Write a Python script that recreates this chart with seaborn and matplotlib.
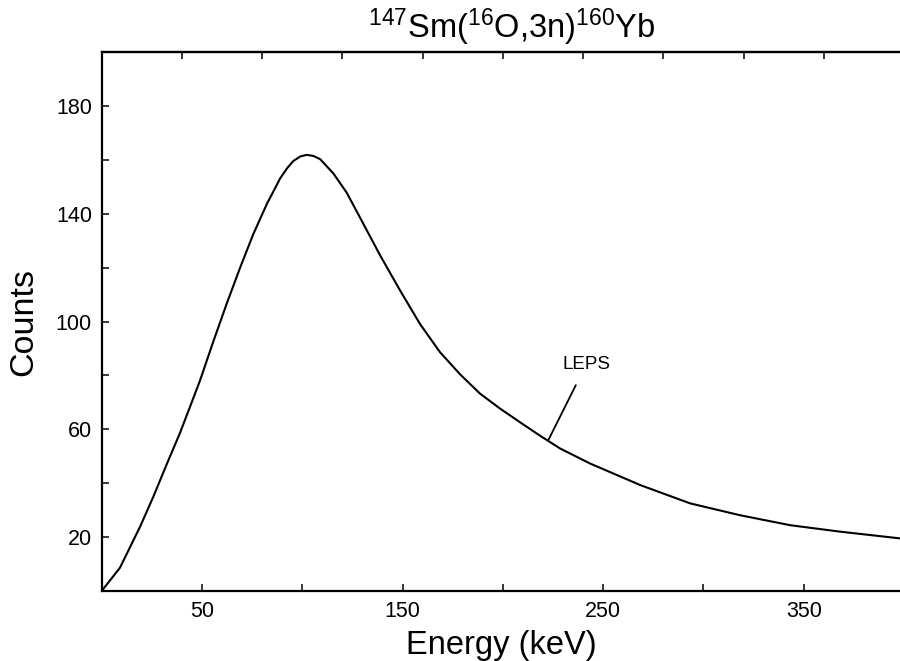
import numpy as np
import pandas as pd
import seaborn as sns
import matplotlib.pyplot as plt

# LEPS spectrum
energy = [0, 9.1, 19.1, 25.7, 32.4, 39, 44, 49, 55.6, 62.3, 69, 75.6, 82.3, 89, 92.5,
          95.5, 99, 102.2, 105.5, 108.9, 115.5, 122.2, 128.8, 138.8, 148.8, 158.7,
          168.7, 178.7, 188.7, 198.6, 208.6, 218.6, 228.5, 243.5, 268.5, 293.4, 318.3,
          343.3, 368.2, 398.1]
counts = [0, 8.6, 23.8, 34.9, 47.0, 58.6, 68.3, 78.1, 92.5, 106.6, 120, 132.5, 143.6,
          153.2, 157, 159.6, 161.3, 161.9, 161.5, 160.3, 155.0, 147.8, 138.6, 124.6,
          111.5, 99.1, 88.6, 80.4, 73.2, 67.7, 62.6, 57.6, 52.9, 47.3, 39.3, 32.5, 28.1,
          24.4, 22.0, 19.5]

x_ticks = [50, 100, 150, 200, 250, 300, 350]
x_labels = ['50', '', '150', '', '250', '', '350']
y_ticks = [20, 40, 60, 80, 100, 120, 140, 160, 180]
y_labels = ['20', '', '60', '', '100', '', '140', '', '180']
top_ticks = [40, 80, 120, 160, 200, 240, 280, 320, 360]

title = r'$^{147}$Sm($^{16}$O,3n)$^{160}$Yb'

sns.set_theme(style='ticks')
plt.rcParams['font.family'] = ['Liberation Sans', 'DejaVu Sans']
plt.rcParams['mathtext.fontset'] = 'custom'
plt.rcParams['mathtext.rm'] = 'Liberation Sans'
plt.rcParams['mathtext.it'] = 'Liberation Sans:italic'
plt.rcParams['mathtext.bf'] = 'Liberation Sans:bold'
plt.rcParams['text.color'] = 'black'
plt.rcParams['axes.labelcolor'] = 'black'

df = pd.DataFrame({'energy': energy, 'counts': counts})

fig = plt.figure(figsize=(9, 6.61), dpi=100)
ax = fig.add_axes([0.113, 0.106, 0.887, 0.815])

sns.lineplot(data=df, x='energy', y='counts', color='black', linewidth=1.5, ax=ax)

ax.set_xlim(0, 398)
ax.set_ylim(0, 200)
ax.set_xticks(x_ticks)
ax.set_xticklabels(x_labels)
ax.set_yticks(y_ticks)
ax.set_yticklabels(y_labels)
ax.tick_params(axis='both', direction='in', length=5, width=1.1, labelsize=15.5,
               pad=7, colors='black')

for s in ['left', 'bottom', 'top']:
    ax.spines[s].set_linewidth(1.6)
    ax.spines[s].set_color('black')
    ax.spines[s].set_visible(True)
ax.spines['right'].set_visible(False)

# ticks along the top frame
top = ax.secondary_xaxis('top')
top.set_xticks(top_ticks)
top.set_xticklabels([])
top.tick_params(direction='in', length=5, width=1.1, colors='black')
top.spines['top'].set_linewidth(1.6)

ax.set_xlabel('Energy (keV)', fontsize=23.5, labelpad=6)
ax.set_ylabel('Counts', fontsize=24.5, labelpad=12)
ax.set_title(title, fontsize=23.5, pad=10, x=0.513)

ax.annotate('LEPS', xy=(222.6, 55.9), xytext=(241.5, 84), fontsize=13.5,
            ha='center', va='center',
            arrowprops=dict(arrowstyle='-', color='black', lw=1.3, shrinkA=7, shrinkB=0))

plt.savefig('out.png', dpi=100)
plt.close()
